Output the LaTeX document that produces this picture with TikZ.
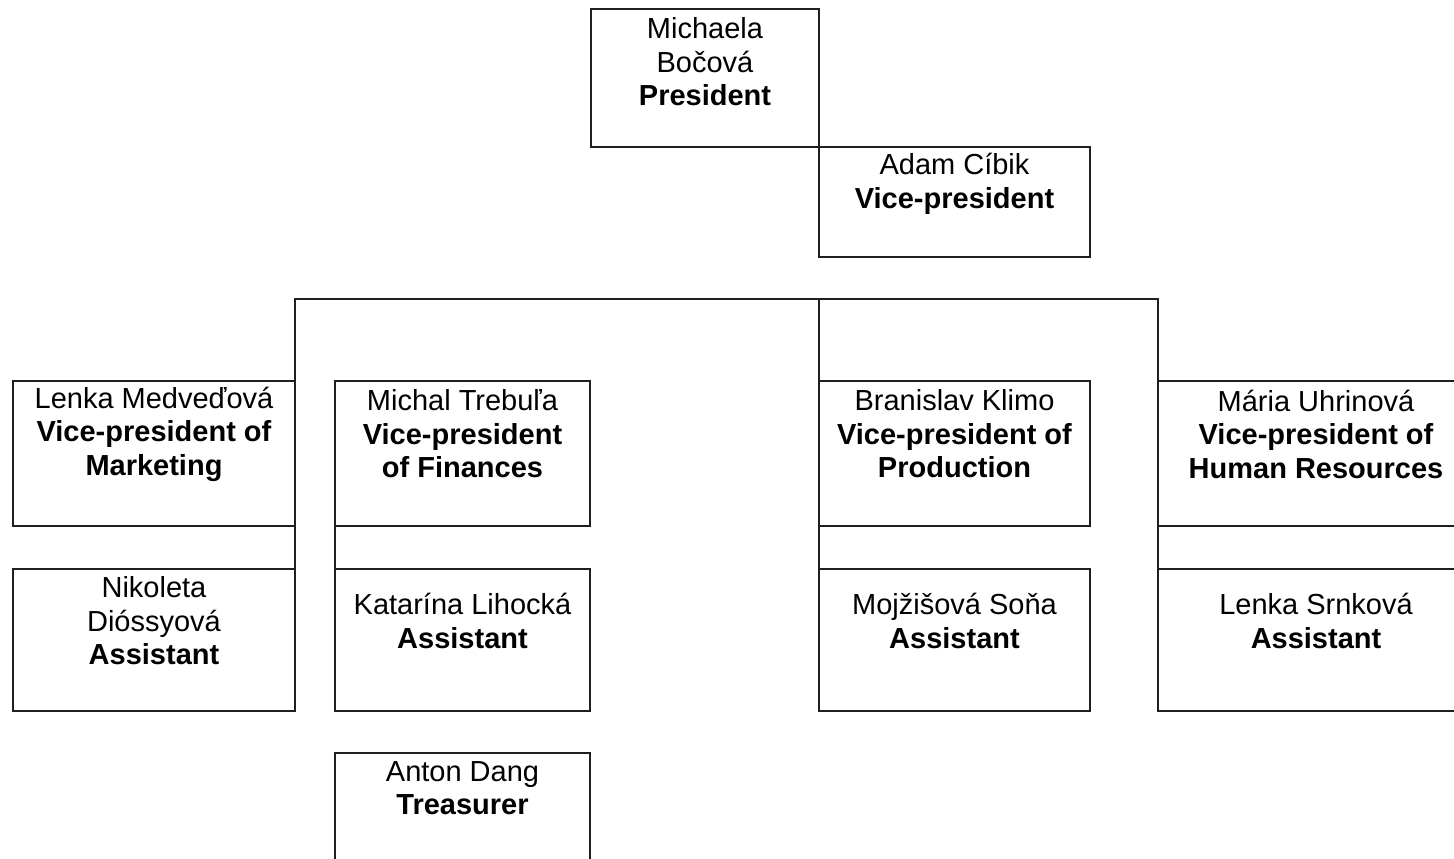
\documentclass[tikz,border=0pt]{standalone}
\usepackage{fontspec}
\setmainfont{Liberation Sans}
\begin{document}
\begin{tikzpicture}[x=0.5pt,y=-0.5pt,
  box/.style={draw=black!88, line width=1pt, rectangle, outer sep=0pt, inner sep=0pt, anchor=north west},
  txt/.style={align=center, inner sep=0pt, font=\fontsize{14.5pt}{16.75pt}\selectfont},
  conn/.style={draw=black!88, line width=1pt}]
\useasboundingbox (0,0) rectangle (1454,858);
% boxes
\node[box, minimum width=114pt, minimum height=69pt] (pres) at (591,9) {};
\node[box, minimum width=135.5pt, minimum height=55pt] (vp) at (819,147) {};
\node[box, minimum width=141pt, minimum height=72.5pt] (lenka) at (13,381) {};
\node[box, minimum width=141pt, minimum height=71pt] (niko) at (13,569) {};
\node[box, minimum width=127.5pt, minimum height=72.5pt] (michal) at (335,381) {};
\node[box, minimum width=127.5pt, minimum height=71pt] (kata) at (335,569) {};
\node[box, minimum width=127.5pt, minimum height=75pt] (anton) at (335,753) {};
\node[box, minimum width=135.5pt, minimum height=72.5pt] (bran) at (819,381) {};
\node[box, minimum width=135.5pt, minimum height=71pt] (mojz) at (819,569) {};
\node[box, minimum width=158pt, minimum height=72.5pt] (maria) at (1158,381) {};
\node[box, minimum width=158pt, minimum height=71pt] (srnk) at (1158,569) {};
% texts
\node[txt] (presT) at (705,62) {Michaela\\Bočová\\\textbf{President}};
\node[txt] (vpT) at (954.5,184) {Adam Cíbik\\\textbf{Vice-president}};
\node[txt] (lenkaT) at (154,434) {Lenka Medveďová\\\textbf{Vice-president of}\\\textbf{Marketing}};
\node[txt] (nikoT) at (154,621) {Nikoleta\\Dióssyová\\\textbf{Assistant}};
\node[txt] (michalT) at (462.5,434) {Michal Trebuľa\\\textbf{Vice-president}\\\textbf{of Finances}};
\node[txt] (kataT) at (462.5,621) {Katarína Lihocká\\\textbf{Assistant}};
\node[txt] (antonT) at (462.5,788) {Anton Dang\\\textbf{Treasurer}};
\node[txt] (branT) at (954.5,434) {Branislav Klimo\\\textbf{Vice-president of}\\\textbf{Production}};
\node[txt] (mojzT) at (954.5,621) {Mojžišová Soňa\\\textbf{Assistant}};
\node[txt] (mariaT) at (1316,434) {Mária Uhrinová\\\textbf{Vice-president of}\\\textbf{Human Resources}};
\node[txt] (srnkT) at (1316,621) {Lenka Srnková\\\textbf{Assistant}};
% connectors
\coordinate (busL) at (295,299);
\coordinate (busM) at (819,299);
\coordinate (busR) at (1158,299);
\draw[conn] (lenka.north east) -- (busL) -- (busR) -- (maria.north west);
\draw[conn] (busM) -- (bran.north west);
\draw[conn] (lenka.south east) -- (niko.north east);
\draw[conn] (michal.south west) -- (kata.north west);
\draw[conn] (bran.south west) -- (mojz.north west);
\draw[conn] (maria.south west) -- (srnk.north west);
\end{tikzpicture}
\end{document}
